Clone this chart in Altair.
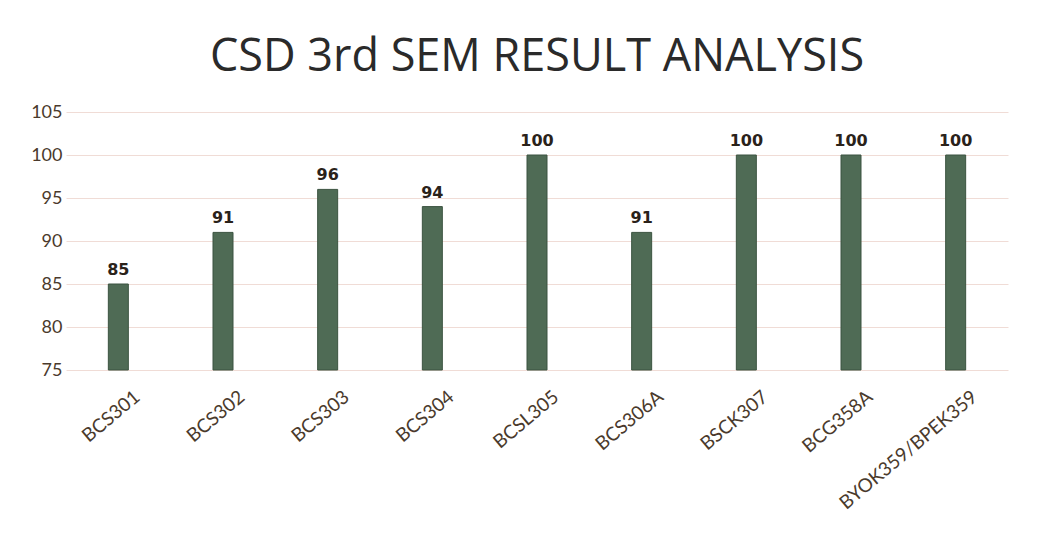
import altair as alt
import pandas as pd

subjects = ["BCS301", "BCS302", "BCS303", "BCS304", "BCSL305", "BCS306A",
            "BSCK307", "BCG358A", "BYOK359/BPEK359"]
results = [85, 91, 96, 94, 100, 91, 100, 100, 100]
y_ticks = [75, 80, 85, 90, 95, 100, 105]

df = pd.DataFrame({"subject": subjects, "result": results})

x_enc = alt.X("subject:N", sort=subjects, title=None,
              scale=alt.Scale(paddingInner=0, paddingOuter=0),
              axis=alt.Axis(labelAngle=-40, labelAlign="right", labelBaseline="middle",
                            labelFont="Lato", labelFontSize=19, labelColor="#4a3a2c",
                            labelPadding=24, labelOffset=19, ticks=False, domain=False))
y_scale = alt.Scale(domain=[75, 105], zero=False, nice=False)

bars = alt.Chart(df).mark_bar(size=20, color="#4f6b55", stroke="#3b5340", strokeWidth=1).encode(
    x=x_enc,
    y=alt.Y("result:Q", scale=y_scale, title=None,
            axis=alt.Axis(values=y_ticks, labelFont="Lato", labelFontSize=18,
                          labelColor="#4a3a2c", labelPadding=4, ticks=False,
                          domain=False, grid=True, gridColor="#f0dcd6", gridWidth=1)),
    y2=alt.datum(75),
)

labels = alt.Chart(df).mark_text(font="DejaVu Sans", fontSize=16, fontWeight="bold",
                                 color="#2a221a", baseline="alphabetic", dy=-9).encode(
    x=alt.X("subject:N", sort=subjects),
    y=alt.Y("result:Q", scale=y_scale),
    text=alt.Text("result:Q"),
)

chart = (bars + labels).properties(
    width=942, height=258,
    padding={"left": 22, "top": 27, "right": 10, "bottom": 5},
    title=alt.TitleParams("CSD 3rd SEM RESULT ANALYSIS", font="Open Sans", fontSize=45,
                          fontWeight="normal", color="#2a2a2a", offset=23, anchor="middle"),
    background="white",
).configure_view(stroke=None)

chart.save("out.html", embed_options={"renderer": "svg", "actions": False})
